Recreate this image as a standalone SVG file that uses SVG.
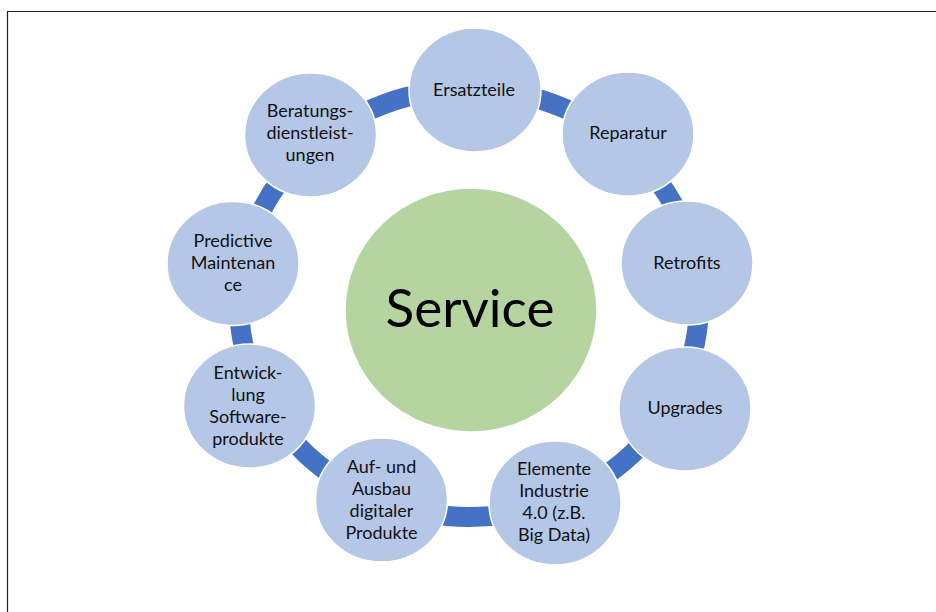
<svg xmlns="http://www.w3.org/2000/svg" width="936" height="612" viewBox="0 0 936 612">
<style>
.node{fill:#B4C7E7;stroke:#FFFFFF;stroke-width:1.5}
.lbl{font-family:Lato,"Open Sans","Liberation Sans",sans-serif;font-size:18px;fill:#111111;text-anchor:middle}
.ring{fill:none;stroke:#4472C4;stroke-width:20}
</style>
<rect width="936" height="612" fill="#FFFFFF"/>
<path d="M7.5 612 V11.5 H936" fill="none" stroke="#222222" stroke-width="1.2"/>
<g id="connectors">
<ellipse class="ring" cx="469" cy="303" rx="230" ry="214"/>
</g>
<g id="service">
<ellipse cx="471" cy="310" rx="126" ry="122" fill="#B5D4A0" stroke="#FFFFFF" stroke-width="1.5"/>
<text x="470" y="327" style="font-family:Lato,'Open Sans','Liberation Sans',sans-serif;font-size:53px;fill:#000000;text-anchor:middle">Service</text>
</g>
<g id="ersatzteile">
<ellipse class="node" cx="475" cy="90" rx="66" ry="62"/>
<text class="lbl" x="474" y="96">Ersatzteile</text>
</g>
<g id="reparatur">
<ellipse class="node" cx="628" cy="134" rx="66" ry="62"/>
<text class="lbl" x="628" y="139">Reparatur</text>
</g>
<g id="retrofits">
<ellipse class="node" cx="687" cy="263" rx="66" ry="62"/>
<text class="lbl" x="687" y="269">Retrofits</text>
</g>
<g id="upgrades">
<ellipse class="node" cx="685" cy="409" rx="66" ry="62"/>
<text class="lbl" x="685" y="414">Upgrades</text>
</g>
<g id="elemente">
<ellipse class="node" cx="555" cy="503" rx="66" ry="62"/>
<text class="lbl" x="554" y="475">Elemente</text>
<text class="lbl" x="554" y="497">Industrie</text>
<text class="lbl" x="554" y="519">4.0 (z.B.</text>
<text class="lbl" x="554" y="541">Big Data)</text>
</g>
<g id="aufbau">
<ellipse class="node" cx="381.5" cy="500" rx="66" ry="62"/>
<text class="lbl" x="381.5" y="473">Auf- und</text>
<text class="lbl" x="381.5" y="495">Ausbau</text>
<text class="lbl" x="381.5" y="517">digitaler</text>
<text class="lbl" x="381.5" y="539">Produkte</text>
</g>
<g id="entwicklung">
<ellipse class="node" cx="249.5" cy="406" rx="66" ry="62"/>
<text class="lbl" x="248" y="379">Entwick-</text>
<text class="lbl" x="248" y="401">lung</text>
<text class="lbl" x="248" y="423">Software-</text>
<text class="lbl" x="248" y="445">produkte</text>
</g>
<g id="predictive">
<ellipse class="node" cx="233" cy="263.5" rx="66" ry="62"/>
<text class="lbl" x="233" y="247">Predictive</text>
<text class="lbl" x="233" y="269">Maintenan</text>
<text class="lbl" x="233" y="291">ce</text>
</g>
<g id="beratung">
<ellipse class="node" cx="310.5" cy="135" rx="66" ry="62"/>
<text class="lbl" x="310" y="117">Beratungs-</text>
<text class="lbl" x="310" y="139">dienstleist-</text>
<text class="lbl" x="310" y="161">ungen</text>
</g>
</svg>
